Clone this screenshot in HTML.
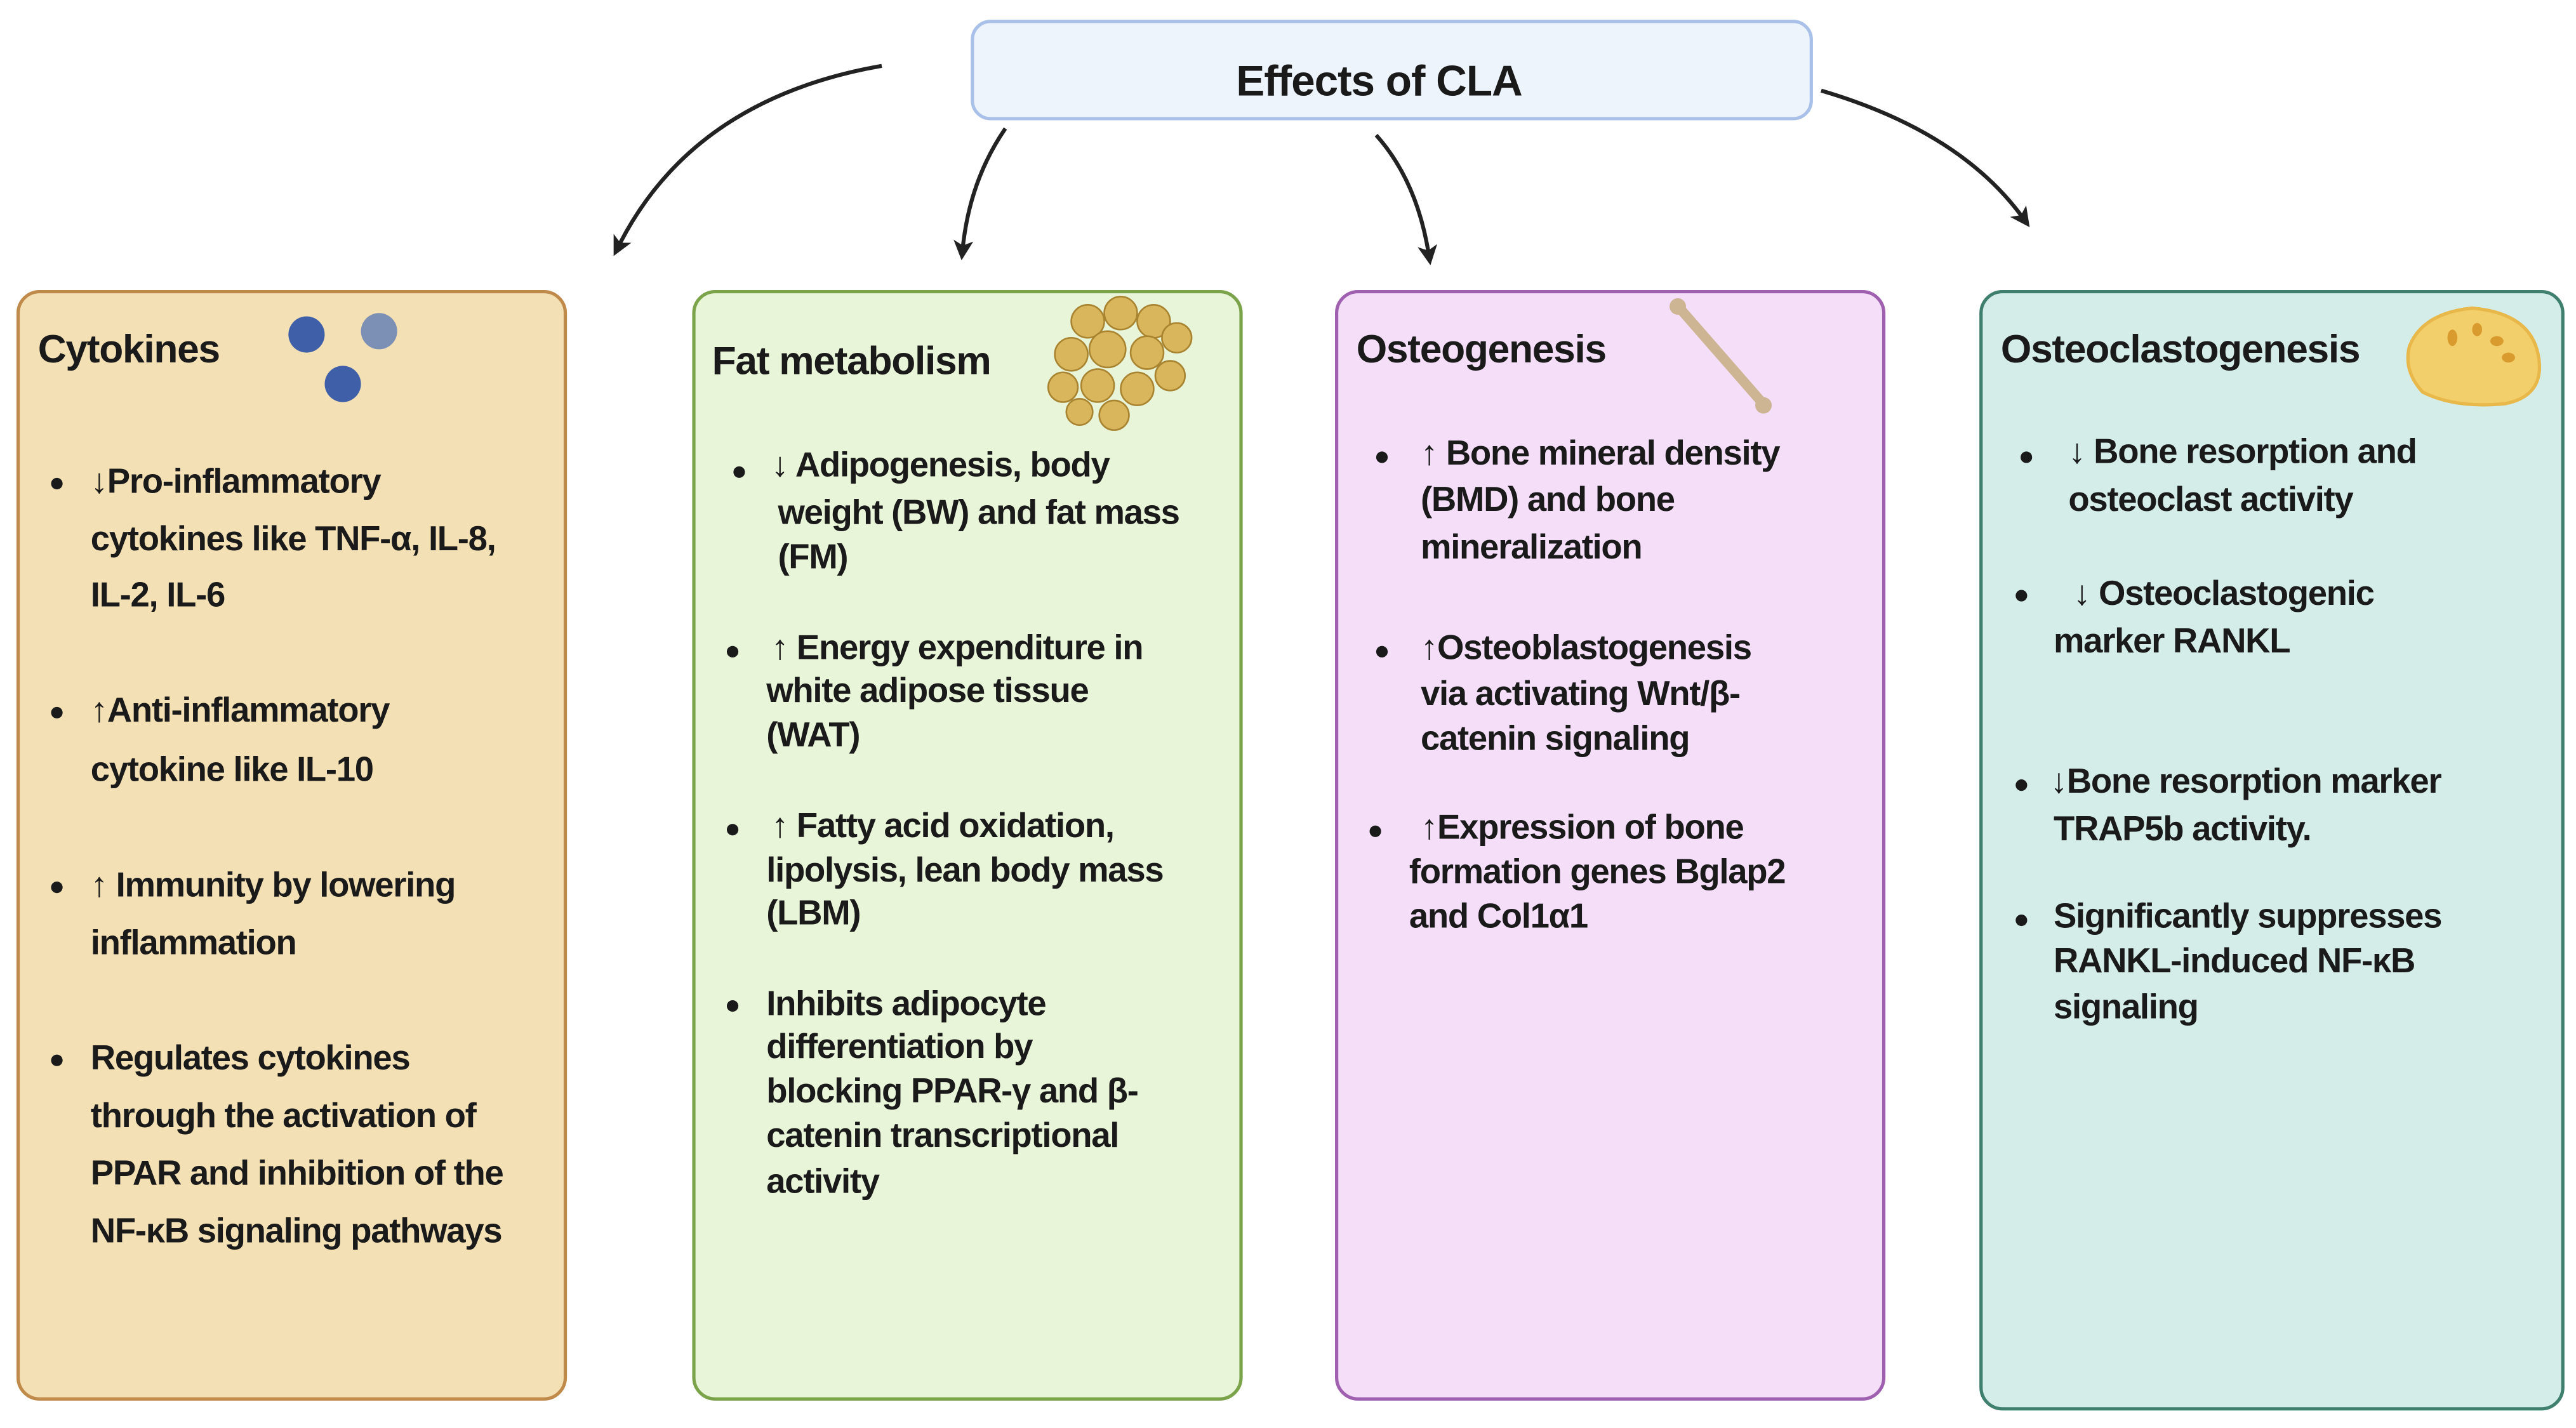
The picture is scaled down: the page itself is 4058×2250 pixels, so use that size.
<!DOCTYPE html>
<html><head><meta charset="utf-8"><style>
html,body{margin:0;padding:0;background:#fff;}
#w{width:4058px;height:2250px;overflow:hidden;position:relative;}
#s{position:absolute;left:0;top:0;width:1563px;height:867px;transform:scale(2.5963);transform-origin:0 0;font-family:"Liberation Sans",sans-serif;color:#1a1a1a;}
.box{position:absolute;border-radius:14px;border:2px solid;box-sizing:border-box;}
.t{position:absolute;white-space:nowrap;font-weight:bold;font-size:21px;letter-spacing:-0.5px;}
.h{font-size:24px;letter-spacing:-0.5px;}
.b{position:absolute;width:7px;height:7px;border-radius:50%;background:#1a1a1a;}
svg{position:absolute;left:0;top:0;}
</style></head><body><div id="w"><div id="s">
<svg width="1563" height="867">
<defs><marker id="a" markerWidth="12" markerHeight="12" refX="6" refY="6" orient="auto" markerUnits="userSpaceOnUse"><path d="M0,0 L12,6 L0,12 L3,6 Z" fill="#222"/></marker></defs>
<g fill="none" stroke="#222" stroke-width="2.4">
<path d="M535,40 Q420,60 375,150" marker-end="url(#a)"/>
<path d="M610,78 Q588,110 584,152" marker-end="url(#a)"/>
<path d="M835,82 Q860,110 867,155" marker-end="url(#a)"/>
<path d="M1105,55 Q1190,80 1228,133" marker-end="url(#a)"/>
</g>
</svg>
<div class="box" style="left:589px;top:12px;width:511px;height:61px;background:#eef4fc;border-color:#a9c0e8;border-radius:12px"></div>
<div class="t" style="left:750px;top:34px;font-size:26px;letter-spacing:-0.4px">Effects of CLA</div>

<div class="box" style="left:10px;top:176px;width:334px;height:674px;background:#f3e1b5;border-color:#c08a4a"></div>
<div class="box" style="left:420px;top:176px;width:334px;height:674px;background:#e9f5d9;border-color:#7aa34a"></div>
<div class="box" style="left:810px;top:176px;width:334px;height:674px;background:#f4def8;border-color:#a060b0"></div>
<div class="box" style="left:1201px;top:176px;width:355px;height:680px;background:#d5ede8;border-color:#3f7f6e"></div>

<svg width="1563" height="867">
<circle cx="186" cy="203" r="11" fill="#3f5fa8"/><circle cx="230" cy="201" r="11" fill="#7c8fb5"/><circle cx="208" cy="233" r="11" fill="#3f5fa8"/>
<g fill="#d9b55c" stroke="#a88430" stroke-width="1">
<circle cx="660" cy="195" r="10"/><circle cx="680" cy="190" r="10"/><circle cx="700" cy="195" r="10"/><circle cx="650" cy="215" r="10"/><circle cx="672" cy="212" r="11"/><circle cx="696" cy="214" r="10"/><circle cx="714" cy="205" r="9"/><circle cx="645" cy="235" r="9"/><circle cx="666" cy="234" r="10"/><circle cx="690" cy="236" r="10"/><circle cx="710" cy="228" r="9"/><circle cx="676" cy="252" r="9"/><circle cx="655" cy="250" r="8"/>
</g>
<path d="M1020,188 L1068,243" stroke="#cdb594" stroke-width="6" stroke-linecap="round"/>
<circle cx="1018" cy="186" r="5" fill="#cdb594"/><circle cx="1070" cy="246" r="5" fill="#cdb594"/>
<path d="M1462,210 Q1470,190 1500,187 Q1535,190 1540,215 Q1545,240 1520,245 Q1490,248 1470,238 Q1458,225 1462,210Z" fill="#f2cf6a" stroke="#e8b84a" stroke-width="2"/>
<g fill="#d99b2e"><ellipse cx="1488" cy="205" rx="3" ry="5"/><ellipse cx="1503" cy="200" rx="3" ry="4"/><ellipse cx="1515" cy="207" rx="4" ry="3"/><ellipse cx="1522" cy="217" rx="4" ry="3"/></g>
</svg>

<div class="t h" style="left:23px;top:199px">Cytokines</div>
<div class="b" style="left:31px;top:290px"></div>
<div class="t" style="left:55px;top:281px">↓Pro-inflammatory</div>
<div class="t" style="left:55px;top:316px">cytokines like TNF-α, IL-8,</div>
<div class="t" style="left:55px;top:350px">IL-2, IL-6</div>
<div class="b" style="left:31px;top:429px"></div>
<div class="t" style="left:55px;top:420px">↑Anti-inflammatory</div>
<div class="t" style="left:55px;top:456px">cytokine like IL-10</div>
<div class="b" style="left:31px;top:535px"></div>
<div class="t" style="left:55px;top:526px">↑ Immunity by lowering</div>
<div class="t" style="left:55px;top:561px">inflammation</div>
<div class="b" style="left:31px;top:640px"></div>
<div class="t" style="left:55px;top:631px">Regulates cytokines</div>
<div class="t" style="left:55px;top:666px">through the activation of</div>
<div class="t" style="left:55px;top:701px">PPAR and inhibition of the</div>
<div class="t" style="left:55px;top:736px">NF-κB signaling pathways</div>

<div class="t h" style="left:432px;top:206px">Fat metabolism</div>
<div class="b" style="left:445px;top:283px"></div>
<div class="t" style="left:468px;top:271px">↓ Adipogenesis, body</div>
<div class="t" style="left:472px;top:300px">weight (BW) and fat mass</div>
<div class="t" style="left:472px;top:327px">(FM)</div>
<div class="b" style="left:441px;top:392px"></div>
<div class="t" style="left:468px;top:382px">↑ Energy expenditure in</div>
<div class="t" style="left:465px;top:408px">white adipose tissue</div>
<div class="t" style="left:465px;top:435px">(WAT)</div>
<div class="b" style="left:441px;top:500px"></div>
<div class="t" style="left:468px;top:490px">↑ Fatty acid oxidation,</div>
<div class="t" style="left:465px;top:517px">lipolysis, lean body mass</div>
<div class="t" style="left:465px;top:543px">(LBM)</div>
<div class="b" style="left:441px;top:607px"></div>
<div class="t" style="left:465px;top:598px">Inhibits adipocyte</div>
<div class="t" style="left:465px;top:624px">differentiation by</div>
<div class="t" style="left:465px;top:651px">blocking PPAR-γ and β-</div>
<div class="t" style="left:465px;top:678px">catenin transcriptional</div>
<div class="t" style="left:465px;top:706px">activity</div>

<div class="t h" style="left:823px;top:199px">Osteogenesis</div>
<div class="b" style="left:835px;top:274px"></div>
<div class="t" style="left:862px;top:264px">↑ Bone mineral density</div>
<div class="t" style="left:862px;top:292px">(BMD) and bone</div>
<div class="t" style="left:862px;top:321px">mineralization</div>
<div class="b" style="left:835px;top:392px"></div>
<div class="t" style="left:862px;top:382px">↑Osteoblastogenesis</div>
<div class="t" style="left:862px;top:410px">via activating Wnt/β-</div>
<div class="t" style="left:862px;top:437px">catenin signaling</div>
<div class="b" style="left:831px;top:501px"></div>
<div class="t" style="left:862px;top:491px">↑Expression of bone</div>
<div class="t" style="left:855px;top:518px">formation genes Bglap2</div>
<div class="t" style="left:855px;top:545px">and Col1α1</div>

<div class="t h" style="left:1214px;top:199px">Osteoclastogenesis</div>
<div class="b" style="left:1226px;top:274px"></div>
<div class="t" style="left:1255px;top:263px">↓ Bone resorption and</div>
<div class="t" style="left:1255px;top:292px">osteoclast activity</div>
<div class="b" style="left:1223px;top:358px"></div>
<div class="t" style="left:1258px;top:349px">↓ Osteoclastogenic</div>
<div class="t" style="left:1246px;top:378px">marker RANKL</div>
<div class="b" style="left:1223px;top:473px"></div>
<div class="t" style="left:1244px;top:463px">↓Bone resorption marker</div>
<div class="t" style="left:1246px;top:492px">TRAP5b activity.</div>
<div class="b" style="left:1223px;top:555px"></div>
<div class="t" style="left:1246px;top:545px">Significantly suppresses</div>
<div class="t" style="left:1246px;top:572px">RANKL-induced NF-κB</div>
<div class="t" style="left:1246px;top:600px">signaling</div>
</div></div></body></html>
